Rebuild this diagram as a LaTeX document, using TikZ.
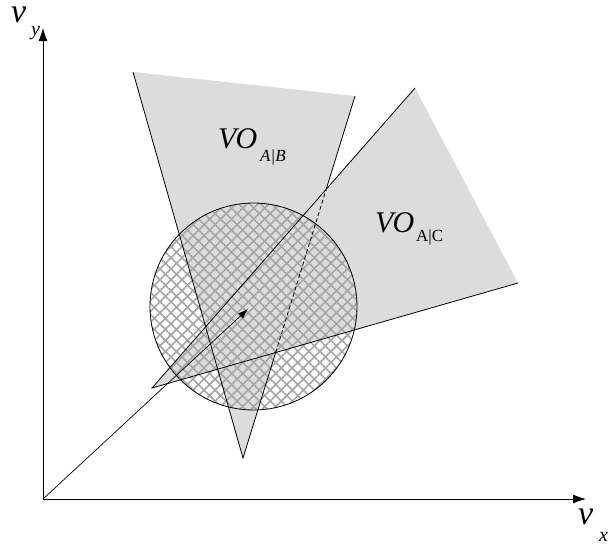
\documentclass[tikz,border=0pt]{standalone}
\usepackage{fontspec}
\setmainfont{Liberation Serif}
\usetikzlibrary{arrows.meta,patterns.meta}
\definecolor{vogray}{RGB}{220,220,220}
\tikzset{
  region/.style={fill=vogray,draw=none},
  edge/.style={draw=black,line width=0.8pt},
  axis/.style={draw=black,line width=0.8pt,-{Latex[length=13pt,width=9pt]}},
  velarrow/.style={draw=black,line width=0.7pt,-{Latex[length=10pt,width=7pt]}},
  bigit/.style={font=\fontsize{30}{30}\selectfont\itshape,inner sep=0pt,anchor=base west},
  subtxt/.style={font=\fontsize{17}{17}\selectfont,inner sep=0pt,anchor=base west},
  axlab/.style={font=\fontsize{34}{34}\selectfont\itshape,inner sep=0pt,anchor=base west},
  axsub/.style={font=\fontsize{20}{20}\selectfont\itshape,inner sep=0pt,anchor=base west},
}
\begin{document}
\begin{tikzpicture}[x=1pt,y=-1pt]
\useasboundingbox (0,0) rectangle (613,550);
% coordinates
\coordinate (O) at (43,499);
\coordinate (Y) at (43,28);
\coordinate (X) at (586,499);
\coordinate (V) at (248,309);
\coordinate (B1) at (243,458);
\coordinate (B2) at (133,72);
\coordinate (B3) at (355,96);
\coordinate (C1) at (152,388);
\coordinate (C2) at (415,88);
\coordinate (C3) at (518,283);
\coordinate (P1) at (intersection of B1--B3 and C1--C2);
\coordinate (P2) at (intersection of B1--B3 and C1--C3);
\coordinate (M) at (253.5,306.5);
% regions
\path[region] (B1) -- (B2) -- (B3) -- cycle;
\path[region] (C1) -- (C2) -- (C3) -- cycle;
% circle with hatch
\path[pattern={Hatch[angle=45,distance=7.8pt,line width=1.6pt]},pattern color=black!35] (M) circle[radius=103.5];
\draw[line width=0.8pt] (M) circle[radius=103.5];
% edges
\draw[edge] (B2) -- (B1) -- (P2);
\draw[edge,dash pattern=on 4pt off 2.5pt] (P2) -- (P1);
\draw[edge] (P1) -- (B3);
\draw[edge] (C2) -- (C1) -- (C3);
% axes
\draw[axis] (O) -- (Y);
\draw[axis] (O) -- (X);
\draw[velarrow] (O) -- (V);
% labels
\node[bigit] (lab1) at (218,148) {VO};
\node[subtxt] (sub1) at (260,161) {\itshape A|B};
\node[bigit] (lab2) at (375,232) {VO};
\node[subtxt] (sub2) at (416,241) {A|C};
\node[axlab] (vy) at (11,22) {v};
\node[axsub] (vys) at (31,35) {y};
\node[axlab] (vx) at (578,524) {v};
\node[axsub] (vxs) at (599,541) {x};
\end{tikzpicture}
\end{document}
